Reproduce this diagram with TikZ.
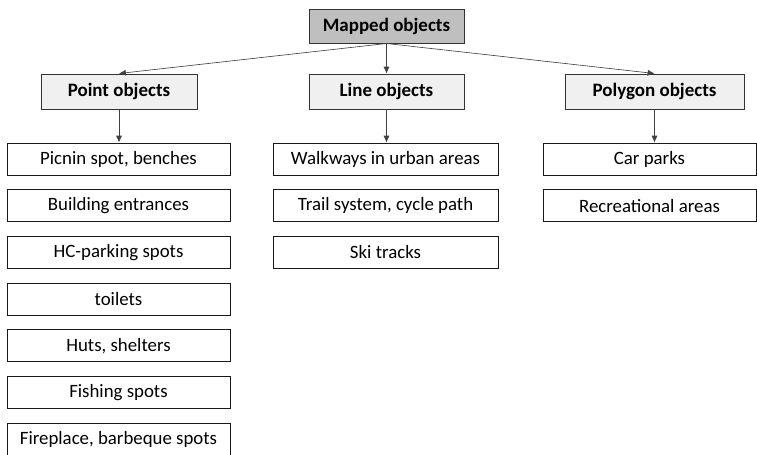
\documentclass[tikz,border=0pt]{standalone}
\usepackage{fontspec}
\setmainfont{Carlito}
\usetikzlibrary{arrows.meta}
\begin{document}
\begin{tikzpicture}[
  font=\fontsize{13.4}{15}\selectfont,
  root/.style={draw=black!80, fill=black!25, line width=0.7pt,
               minimum width=3.875cm, minimum height=0.85cm, inner sep=1pt,
               font=\fontsize{13.5}{15}\selectfont\bfseries},
  grp/.style={draw=black!80, fill=black!6, line width=0.7pt,
              minimum height=0.875cm, inner sep=1pt,
              font=\fontsize{13.5}{15}\selectfont\bfseries},
  leaf/.style={draw=black!90, fill=white, line width=0.7pt,
               minimum height=0.8cm, inner sep=1pt},
  arr/.style={-{Latex[length=1.7mm, width=1.5mm]}, line width=0.45pt, black!75}
]
  \useasboundingbox (0,0) rectangle (18.925,-11.375);
  %% --- Root ---
  \node[root] (mo) at (9.6625, -0.65) {Mapped objects};
  %% --- Object groups ---
  \node[grp, minimum width=3.9cm]   (po) at (2.975,   -2.2875) {Point objects};
  \node[grp, minimum width=3.875cm] (lo) at (9.6625,  -2.2875) {Line objects};
  \node[grp, minimum width=4.475cm] (pg) at (16.3625, -2.2875) {Polygon objects};
  %% --- Point objects ---
  \node[leaf, minimum width=5.575cm] (p1) at (2.9625, -3.975) {Picnin spot, benches};
  \node[leaf, minimum width=5.575cm] (p2) at (2.9625, -5.1425) {Building entrances};
  \node[leaf, minimum width=5.575cm] (p3) at (2.9625, -6.31) {HC-parking spots};
  \node[leaf, minimum width=5.575cm] (p4) at (2.9625, -7.4775) {toilets};
  \node[leaf, minimum width=5.575cm] (p5) at (2.9625, -8.645) {Huts, shelters};
  \node[leaf, minimum width=5.575cm] (p6) at (2.9625, -9.8125) {Fishing spots};
  \node[leaf, minimum width=5.575cm] (p7) at (2.9625, -10.975) {Fireplace, barbeque spots};
  %% --- Line objects ---
  \node[leaf, minimum width=5.625cm] (l1) at (9.6375, -3.975) {Walkways in urban areas};
  \node[leaf, minimum width=5.625cm] (l2) at (9.6375, -5.1425) {Trail system, cycle path};
  \node[leaf, minimum width=5.625cm] (l3) at (9.6375, -6.31) {Ski tracks};
  %% --- Polygon objects ---
  \node[leaf, minimum width=5.325cm] (g1) at (16.2375, -3.975) {Car parks};
  \node[leaf, minimum width=5.325cm] (g2) at (16.2375, -5.1425) {Recreational areas};
  %% --- Connectors ---
  \draw[arr] (mo.south) -- (po.north);
  \draw[arr] (mo.south) -- (lo.north);
  \draw[arr] (mo.south) -- (pg.north);
  \draw[arr] (po.south) -- (po.south |- p1.north);
  \draw[arr] (lo.south) -- (lo.south |- l1.north);
  \draw[arr] (pg.south) -- (pg.south |- g1.north);
\end{tikzpicture}
\end{document}
